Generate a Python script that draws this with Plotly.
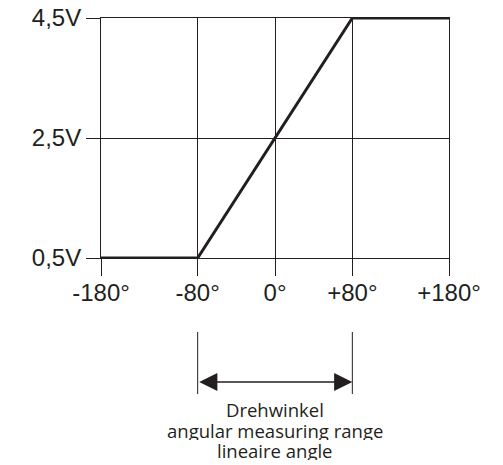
import plotly.graph_objects as go

# Data
angles = [-180, -80, 80, 180]          # degrees
voltage = [0.5, 0.5, 4.5, 4.5]         # volts
x_ticks = [-180, -80, 0, 80, 180]
x_labels = ["-180°", "-80°", "0°", "+80°", "+180°"]
y_ticks = [0.5, 2.5, 4.5]
y_labels = ["0,5V", "2,5V", "4,5V"]
linear_range = [-80, 80]
caption = ["Drehwinkel", "angular measuring range", "lineaire angle"]

INK = "#231f20"
OFF = 8                      # page body margin of the browser
W, H = 503 - OFF, 465 - OFF
ML, MR, MT, MB = 101 - OFF, 54, 18 - OFF, 207
PH = H - MT - MB

def py(screen_pix):
    return (H - MB - (screen_pix - OFF)) / PH

fig = go.Figure()
fig.add_trace(go.Scatter(x=angles, y=voltage, mode="lines",
                         line=dict(color=INK, width=3), cliponaxis=False,
                         hoverinfo="skip", showlegend=False))

# bracket lines at the ends of the linear range
for xv in linear_range:
    fig.add_shape(type="line", xref="x", yref="paper", x0=xv, x1=xv,
                  y0=py(332), y1=py(394), line=dict(color=INK, width=1))

# double arrow
fig.add_annotation(x=linear_range[1], y=py(382), ax=linear_range[0], ay=0,
                   xref="x", yref="paper", axref="x", ayref="pixel",
                   showarrow=True, arrowside="end+start", arrowhead=2,
                   arrowsize=2.6, arrowwidth=1.4, arrowcolor=INK, text="",
                   standoff=0, startstandoff=0)

cap_y = [409, 429.5, 450]
for t, yy in zip(caption, cap_y):
    fig.add_annotation(x=sum(linear_range) / 2, y=py(yy), xref="x", yref="paper",
                       text=t, showarrow=False, xanchor="center", yanchor="middle",
                       height=20, font=dict(family="Open Sans", size=18.5, color=INK))

axis_common = dict(showline=True, mirror=True, linecolor=INK, linewidth=1,
                   showgrid=True, gridcolor=INK, gridwidth=1, zeroline=False,
                   ticks="outside", tickcolor=INK, tickwidth=1, automargin=False,
                   ticklabeloverflow="allow",
                   tickfont=dict(family="Liberation Sans, Arial", size=24, color=INK))

fig.update_xaxes(range=[x_ticks[0], x_ticks[-1]], tickmode="array",
                 tickvals=x_ticks, ticktext=x_labels, ticklen=17,
                 ticklabelstandoff=-4, **axis_common)
fig.update_yaxes(range=[y_ticks[0], y_ticks[-1]], tickmode="array",
                 tickvals=y_ticks, ticktext=y_labels, ticklen=14, **axis_common)

fig.update_layout(width=W, height=H, margin=dict(l=ML, r=MR, t=MT, b=MB),
                  paper_bgcolor="white", plot_bgcolor="white", showlegend=False)

fig.write_html("out.html")
